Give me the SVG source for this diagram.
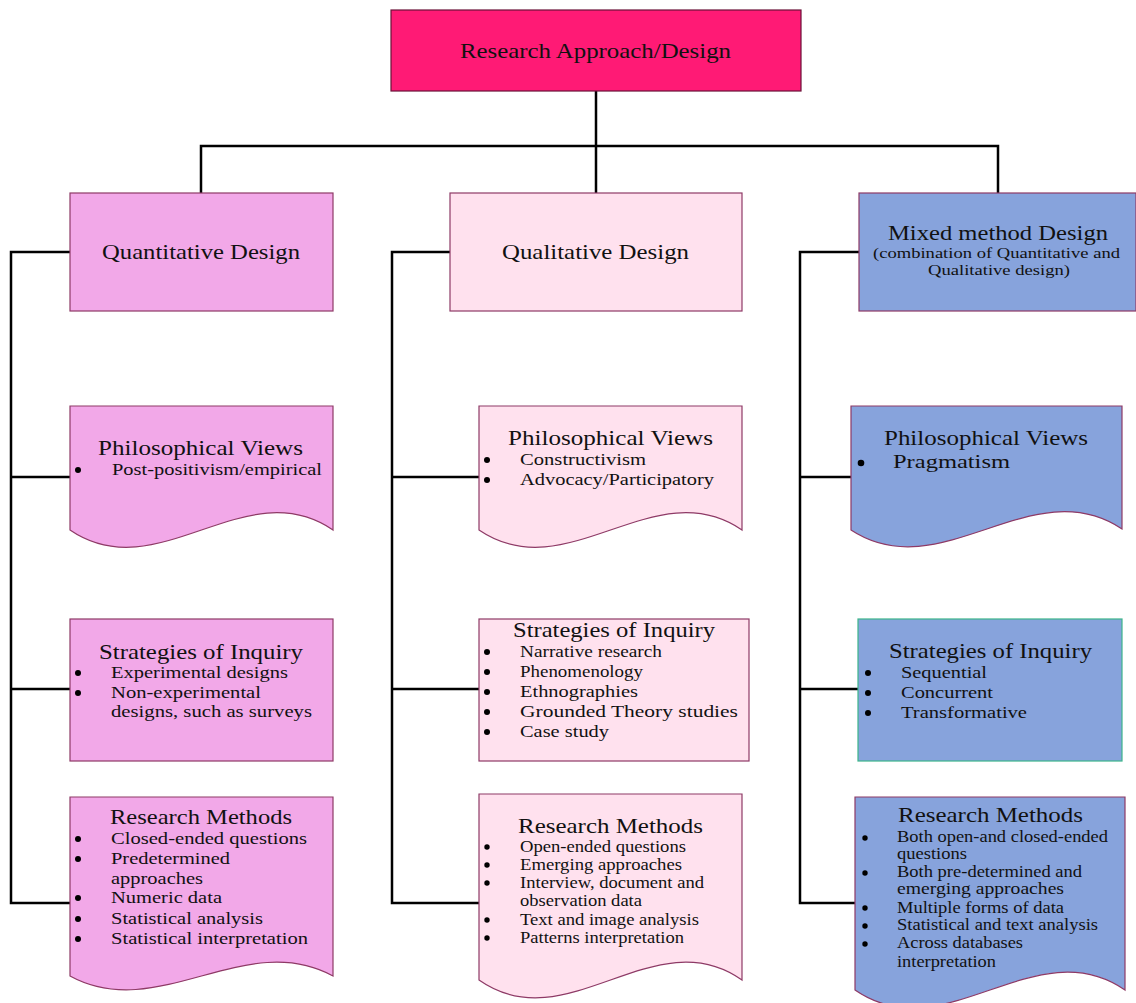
<svg xmlns="http://www.w3.org/2000/svg" width="1136" height="1003" viewBox="0 0 1136 1003">
<style>
text{font-family:"Liberation Serif","Times New Roman",serif;fill:#111}
.h{font-size:21px}
.t{font-size:17.5px}
.s{font-size:16px}
.c{font-size:15.5px}
.quant{fill:#F2A8E8;stroke:#8E3A66;stroke-width:1.2}
.qual{fill:#FFE1EE;stroke:#8E3A66;stroke-width:1.2}
.mix{fill:#87A3DC;stroke:#8E3A66;stroke-width:1.2}
.conn{fill:none;stroke:#000;stroke-width:2.5}
circle{fill:#000}
</style>
<rect width="1136" height="1003" fill="#fff"/>
<g id="connectors" class="conn">
<path d="M596,91 V193 M201,193 V146 H998 V193"/>
<path d="M70,252 H11 V903 H70 M11,477 H70 M11,689 H70"/>
<path d="M450,252 H392 V903 H479 M392,477 H479 M392,689 H479"/>
<path d="M859,252 H800 V903 H855 M800,477 H851 M800,689 H859"/>
</g>
<g id="root">
<rect x="391" y="10" width="410" height="81" fill="#FF1A75" stroke="#6A1238" stroke-width="1.2"/>
<text class="h" x="460" y="58" font-size="20" textLength="271" lengthAdjust="spacingAndGlyphs">Research Approach/Design</text>
</g>
<g id="quantitative">
<rect class="quant" x="70" y="193" width="263" height="118"/>
<text class="h" x="102" y="259" textLength="198" lengthAdjust="spacingAndGlyphs">Quantitative Design</text>
</g>
<g id="qualitative">
<rect class="qual" x="450" y="193" width="292" height="118"/>
<text class="h" x="502" y="259" textLength="187" lengthAdjust="spacingAndGlyphs">Qualitative Design</text>
</g>
<g id="mixed">
<rect class="mix" x="859" y="193" width="277" height="118"/>
<text class="h" x="888" y="240" textLength="220" lengthAdjust="spacingAndGlyphs">Mixed method Design</text>
<text class="c" x="873" y="258" textLength="247" lengthAdjust="spacingAndGlyphs">(combination of Quantitative and</text>
<text class="c" x="928" y="275" textLength="142" lengthAdjust="spacingAndGlyphs">Qualitative design)</text>
</g>
<g id="quant-views">
<path class="quant" d="M70,406 H333 V530 C245,470 158,590 70,530 Z"/>
<text class="h" x="98" y="455" textLength="205" lengthAdjust="spacingAndGlyphs">Philosophical Views</text>
<circle cx="78" cy="470" r="3"/>
<text class="t" x="112" y="475" textLength="210" lengthAdjust="spacingAndGlyphs">Post-positivism/empirical</text>
</g>
<g id="quant-strategies">
<rect class="quant" x="70" y="619" width="263" height="142"/>
<text class="h" x="99" y="659" textLength="204" lengthAdjust="spacingAndGlyphs">Strategies of Inquiry</text>
<circle cx="78" cy="673" r="3"/><circle cx="78" cy="693" r="3"/>
<text class="t" x="111" y="678" textLength="177" lengthAdjust="spacingAndGlyphs">Experimental designs</text>
<text class="t" x="111" y="698" textLength="150" lengthAdjust="spacingAndGlyphs">Non-experimental</text>
<text class="t" x="111" y="717" textLength="201" lengthAdjust="spacingAndGlyphs">designs, such as surveys</text>
</g>
<g id="quant-methods">
<path class="quant" d="M70,797 H333 V976 C245,928 158,1024 70,976 Z"/>
<text class="h" x="110" y="824" textLength="182" lengthAdjust="spacingAndGlyphs">Research Methods</text>
<circle cx="78" cy="839" r="3"/><circle cx="78" cy="859" r="3"/><circle cx="78" cy="898" r="3"/><circle cx="78" cy="919" r="3"/><circle cx="78" cy="939" r="3"/>
<text class="t" x="111" y="844" textLength="196" lengthAdjust="spacingAndGlyphs">Closed-ended questions</text>
<text class="t" x="111" y="864" textLength="119" lengthAdjust="spacingAndGlyphs">Predetermined</text>
<text class="t" x="111" y="884" textLength="92" lengthAdjust="spacingAndGlyphs">approaches</text>
<text class="t" x="111" y="903" textLength="111" lengthAdjust="spacingAndGlyphs">Numeric data</text>
<text class="t" x="111" y="924" textLength="152" lengthAdjust="spacingAndGlyphs">Statistical analysis</text>
<text class="t" x="111" y="944" textLength="197" lengthAdjust="spacingAndGlyphs">Statistical interpretation</text>
</g>
<g id="qual-views">
<path class="qual" d="M479,406 H742 V530 C654,470 567,590 479,530 Z"/>
<text class="h" x="508" y="445" textLength="205" lengthAdjust="spacingAndGlyphs">Philosophical Views</text>
<circle cx="487" cy="460" r="3"/><circle cx="487" cy="480" r="3"/>
<text class="t" x="520" y="465" textLength="126" lengthAdjust="spacingAndGlyphs">Constructivism</text>
<text class="t" x="520" y="485" textLength="194" lengthAdjust="spacingAndGlyphs">Advocacy/Participatory</text>
</g>
<g id="qual-strategies">
<rect class="qual" x="479" y="619" width="270" height="142"/>
<text class="h" x="513" y="637" textLength="202" lengthAdjust="spacingAndGlyphs">Strategies of Inquiry</text>
<circle cx="487" cy="652" r="3"/><circle cx="487" cy="672" r="3"/><circle cx="487" cy="692" r="3"/><circle cx="487" cy="712" r="3"/><circle cx="487" cy="732" r="3"/>
<text class="t" x="520" y="657" textLength="142" lengthAdjust="spacingAndGlyphs">Narrative research</text>
<text class="t" x="520" y="677" textLength="123" lengthAdjust="spacingAndGlyphs">Phenomenology</text>
<text class="t" x="520" y="697" textLength="118" lengthAdjust="spacingAndGlyphs">Ethnographies</text>
<text class="t" x="520" y="717" textLength="218" lengthAdjust="spacingAndGlyphs">Grounded Theory studies</text>
<text class="t" x="520" y="737" textLength="89" lengthAdjust="spacingAndGlyphs">Case study</text>
</g>
<g id="qual-methods">
<path class="qual" d="M479,794 H742 V980 C654,918 567,1042 479,980 Z"/>
<text class="h" x="518" y="833" textLength="185" lengthAdjust="spacingAndGlyphs">Research Methods</text>
<circle cx="487" cy="847" r="2.7"/><circle cx="487" cy="865" r="2.7"/><circle cx="487" cy="883" r="2.7"/><circle cx="487" cy="920" r="2.7"/><circle cx="487" cy="938" r="2.7"/>
<text class="s" x="520" y="852" textLength="166" lengthAdjust="spacingAndGlyphs">Open-ended questions</text>
<text class="s" x="520" y="870" textLength="162" lengthAdjust="spacingAndGlyphs">Emerging approaches</text>
<text class="s" x="520" y="888" textLength="184" lengthAdjust="spacingAndGlyphs">Interview, document and</text>
<text class="s" x="520" y="906" textLength="122" lengthAdjust="spacingAndGlyphs">observation data</text>
<text class="s" x="520" y="925" textLength="179" lengthAdjust="spacingAndGlyphs">Text and image analysis</text>
<text class="s" x="520" y="943" textLength="164" lengthAdjust="spacingAndGlyphs">Patterns interpretation</text>
</g>
<g id="mixed-views">
<path class="mix" d="M851,406 H1122 V529 C1032,469 941,589 851,530 Z"/>
<text class="h" x="884" y="445" textLength="204" lengthAdjust="spacingAndGlyphs">Philosophical Views</text>
<circle cx="861" cy="463" r="3.3"/>
<text x="893" y="468" font-size="19" textLength="117" lengthAdjust="spacingAndGlyphs">Pragmatism</text>
</g>
<g id="mixed-strategies">
<rect class="mix" x="858" y="619" width="264" height="142" style="stroke:#3BB58A"/>
<text class="h" x="889" y="658" textLength="203" lengthAdjust="spacingAndGlyphs">Strategies of Inquiry</text>
<circle cx="868" cy="673" r="3"/><circle cx="868" cy="693" r="3"/><circle cx="868" cy="713" r="3"/>
<text class="t" x="901" y="678" textLength="86" lengthAdjust="spacingAndGlyphs">Sequential</text>
<text class="t" x="901" y="698" textLength="92" lengthAdjust="spacingAndGlyphs">Concurrent</text>
<text class="t" x="901" y="718" textLength="126" lengthAdjust="spacingAndGlyphs">Transformative</text>
</g>
<g id="mixed-methods">
<path class="mix" d="M855,797 H1125 V990 C1035,928 945,1052 855,990 Z"/>
<text class="h" x="898" y="822" textLength="185" lengthAdjust="spacingAndGlyphs">Research Methods</text>
<circle cx="865" cy="838" r="2.7"/><circle cx="865" cy="873" r="2.7"/><circle cx="865" cy="908" r="2.7"/><circle cx="865" cy="926" r="2.7"/><circle cx="865" cy="944" r="2.7"/>
<text class="s" x="897" y="842" textLength="211" lengthAdjust="spacingAndGlyphs">Both open-and closed-ended</text>
<text class="s" x="897" y="859" textLength="70" lengthAdjust="spacingAndGlyphs">questions</text>
<text class="s" x="897" y="877" textLength="185" lengthAdjust="spacingAndGlyphs">Both pre-determined and</text>
<text class="s" x="897" y="894" textLength="167" lengthAdjust="spacingAndGlyphs">emerging approaches</text>
<text class="s" x="897" y="913" textLength="167" lengthAdjust="spacingAndGlyphs">Multiple forms of data</text>
<text class="s" x="897" y="930" textLength="201" lengthAdjust="spacingAndGlyphs">Statistical and text analysis</text>
<text class="s" x="897" y="948" textLength="126" lengthAdjust="spacingAndGlyphs">Across databases</text>
<text class="s" x="897" y="967" textLength="99" lengthAdjust="spacingAndGlyphs">interpretation</text>
</g>
</svg>
